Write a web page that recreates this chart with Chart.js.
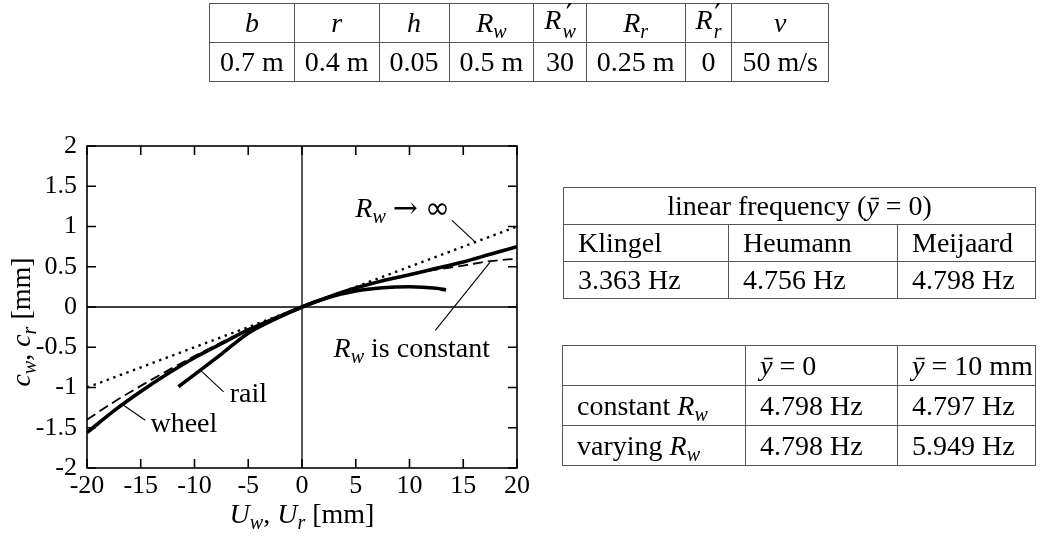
<!DOCTYPE html>
<html><head><meta charset="utf-8">
<script src="https://cdn.jsdelivr.net/npm/chart.js@4.4.1/dist/chart.umd.min.js"></script>
<style>
html,body{margin:0;padding:0;background:#fff;}
body{width:1053px;height:536px;position:relative;overflow:hidden;font-family:"Liberation Serif",serif;color:#000;}
#c{position:absolute;left:0;top:0;}
table{position:absolute;border-collapse:collapse;font-size:28px;line-height:1;font-family:"Liberation Serif",serif;}
td{border:1.3px solid #555;white-space:nowrap;}
sub{font-size:20px;vertical-align:-6px;line-height:0;}
.ps{display:inline-flex;flex-direction:column;vertical-align:middle;margin-left:1px;}
.ps .p{font-size:30px;line-height:15px;height:15px;font-family:"DejaVu Serif",serif;}
.ps .s{font-size:20px;line-height:18px;}
#t1{left:209px;top:3px;}
#t1 td{text-align:center;height:38px;padding:0 10px;}
#t2{left:563px;top:187px;width:472px;table-layout:fixed;}
#t2 td{height:36px;text-align:left;padding:0 0 0 14px;}
#t3{left:562px;top:345px;width:473px;table-layout:fixed;}
#t3 td{height:39px;text-align:left;padding:0 0 0 14px;}
</style></head>
<body>
<canvas id="c" width="1053" height="536"></canvas>
<table id="t1"></table>
<table id="t2"></table>
<table id="t3"></table>
<script>
// ---- data ----
const xTicks = [-20,-15,-10,-5,0,5,10,15,20];
const yTicks = [-2,-1.5,-1,-0.5,0,0.5,1,1.5,2];
const xTickLabels = ['-20','-15','-10','-5','0','5','10','15','20'];
const yTickLabels = ['-2','-1.5','-1','-0.5','0','0.5','1','1.5','2'];

const infX  = [-20, 0, 20];
const infY  = [-1, 0, 1];
const constX = [-20,-17.5,-15,-12.5,-10,-7.5,-5,-2.5,0,2.5,5,7.5,10,12.5,15,17.5,20];
const constY = [-1.40,-1.18,-0.98,-0.79,-0.61,-0.44,-0.275,-0.135,0,0.125,0.235,0.33,0.405,0.465,0.515,0.57,0.60];
const wheelX = [-20,-17.5,-15,-12.5,-10,-7.5,-5,-2.5,0,2.5,5,7.5,10,12.5,15,17.5,20];
const wheelY = [-1.56,-1.29,-1.05,-0.83,-0.63,-0.455,-0.285,-0.14,0,0.125,0.235,0.325,0.40,0.48,0.56,0.655,0.75];
const railX = [-11.5,-10,-7.5,-5,-2.5,0,2.5,5,7.5,10,12.5,13.4];
const railY = [-0.99,-0.84,-0.585,-0.325,-0.15,0,0.12,0.2,0.24,0.252,0.232,0.212];

const paramHeads = ['<i>b</i>','<i>r</i>','<i>h</i>','<i>R</i><sub><i>w</i></sub>',
  '<i>R</i><span class="ps"><span class="p">′</span><span class="s"><i>w</i></span></span>',
  '<i>R</i><sub><i>r</i></sub>',
  '<i>R</i><span class="ps"><span class="p">′</span><span class="s"><i>r</i></span></span>','<i>v</i>'];
const paramVals = ['0.7 m','0.4 m','0.05','0.5 m','30','0.25 m','0','50 m/s'];
const linHead = 'linear frequency (<i>ȳ</i> = 0)';
const linNames = ['Klingel','Heumann','Meijaard'];
const linVals = ['3.363 Hz','4.756 Hz','4.798 Hz'];
const cmpHeads = ['','<i>ȳ</i> = 0','<i>ȳ</i> = 10 mm'];
const cmpRows = [['constant <i>R</i><sub><i>w</i></sub>','4.798 Hz','4.797 Hz'],
                 ['varying <i>R</i><sub><i>w</i></sub>','4.798 Hz','5.949 Hz']];

// ---- tables ----
document.getElementById('t1').innerHTML =
  '<tr>'+paramHeads.map(h=>'<td>'+h+'</td>').join('')+'</tr>'+
  '<tr>'+paramVals.map(v=>'<td>'+v+'</td>').join('')+'</tr>';
const w2=[165,169,138];
document.getElementById('t2').innerHTML =
  '<colgroup>'+w2.map(w=>'<col style="width:'+w+'px">').join('')+'</colgroup>'+
  '<tr><td colspan="3" style="text-align:center;padding:0">'+linHead+'</td></tr>'+
  '<tr>'+linNames.map(n=>'<td>'+n+'</td>').join('')+'</tr>'+
  '<tr>'+linVals.map(v=>'<td>'+v+'</td>').join('')+'</tr>';
const w3=[183,152,138];
document.getElementById('t3').innerHTML =
  '<colgroup>'+w3.map(w=>'<col style="width:'+w+'px">').join('')+'</colgroup>'+
  '<tr>'+cmpHeads.map(h=>'<td>'+h+'</td>').join('')+'</tr>'+
  cmpRows.map(r=>'<tr>'+r.map(v=>'<td>'+v+'</td>').join('')+'</tr>').join('');

// ---- annotations (data coords) ----
const notes = [
  {parts:[{t:'R',it:1},{t:'w',it:1,sub:1},{t:' '},{t:'→',sym:1},{t:' '},{t:'∞',sym:2}], x:4.96, y:1.115, lx:[13.95,16.12], ly:[1.076,0.806]},
  {parts:[{t:'R',it:1},{t:'w',it:1,sub:1},{t:' is constant'}], x:2.94, y:-0.62, lx:[12.4,17.5], ly:[-0.29,0.558]},
  {parts:[{t:'rail'}], x:-6.73, y:-1.18, lx:[-7.29,-9.46], ly:[-1.055,-0.785]},
  {parts:[{t:'wheel'}], x:-14.1, y:-1.55, lx:[-14.58,-16.6], ly:[-1.406,-1.22]}
];
const xTitle = [{t:'U',it:1},{t:'w',it:1,sub:1},{t:', '},{t:'U',it:1},{t:'r',it:1,sub:1},{t:' [mm]'}];
const yTitle = [{t:'c',it:1},{t:'w',it:1,sub:1},{t:', '},{t:'c',it:1},{t:'r',it:1,sub:1},{t:' [mm]'}];

const FAM = '"Liberation Serif", serif';
function fontOf(p){
  if(p.sym===1) return '30px "DejaVu Serif", serif';
  if(p.sym===2) return '30px "DejaVu Sans", sans-serif';
  return (p.it?'italic ':'')+(p.sub?20:28)+'px '+FAM;
}
function drawRich(ctx, parts, x, y, align){
  let w=0; parts.forEach(p=>{ctx.font=fontOf(p); w+=ctx.measureText(p.t).width;});
  let cx = align==='center'? x-w/2 : x;
  ctx.textBaseline='alphabetic'; ctx.textAlign='left'; ctx.fillStyle='#000';
  parts.forEach(p=>{ctx.font=fontOf(p); ctx.fillText(p.t, cx, y+(p.sub?6:0)+(p.sym?1:0)); cx+=ctx.measureText(p.t).width;});
}

const framePlugin = {
  id:'frame',
  beforeDatasetsDraw(chart){
    const {ctx, chartArea:a, scales:{x,y}} = chart;
    ctx.save(); ctx.strokeStyle='#000'; ctx.lineWidth=1.3;
    const x0=x.getPixelForValue(0), y0=y.getPixelForValue(0);
    ctx.beginPath(); ctx.moveTo(x0,a.top); ctx.lineTo(x0,a.bottom);
    ctx.moveTo(a.left,y0); ctx.lineTo(a.right,y0); ctx.stroke();
    ctx.restore();
  },
  afterDraw(chart){
    const {ctx, chartArea:a, scales:{x,y}} = chart;
    ctx.save(); ctx.strokeStyle='#000'; ctx.lineWidth=1.6;
    ctx.strokeRect(a.left,a.top,a.right-a.left,a.bottom-a.top);
    const L=9;
    ctx.beginPath();
    xTicks.forEach(v=>{const p=x.getPixelForValue(v);
      ctx.moveTo(p,a.bottom); ctx.lineTo(p,a.bottom-L); ctx.moveTo(p,a.top); ctx.lineTo(p,a.top+L);});
    yTicks.forEach(v=>{const p=y.getPixelForValue(v);
      ctx.moveTo(a.left,p); ctx.lineTo(a.left+L,p); ctx.moveTo(a.right,p); ctx.lineTo(a.right-L,p);});
    ctx.stroke();
    // annotations
    ctx.lineWidth=1.1;
    notes.forEach(n=>{
      ctx.beginPath();
      ctx.moveTo(x.getPixelForValue(n.lx[0]), y.getPixelForValue(n.ly[0]));
      ctx.lineTo(x.getPixelForValue(n.lx[1]), y.getPixelForValue(n.ly[1]));
      ctx.stroke();
      drawRich(ctx, n.parts, x.getPixelForValue(n.x), y.getPixelForValue(n.y), 'left');
    });
    // axis titles
    drawRich(ctx, xTitle, (a.left+a.right)/2, a.bottom+55, 'center');
    ctx.translate(a.left-57, (a.top+a.bottom)/2+15);
    ctx.rotate(-Math.PI/2);
    drawRich(ctx, yTitle, 0, 0, 'center');
    ctx.restore();
  }
};

const pts = (xs,ys)=>xs.map((v,i)=>({x:v,y:ys[i]}));
const tickFont = {family:'Liberation Serif', size:26};

new Chart(document.getElementById('c'), {
  type:'line',
  data:{datasets:[
    {label:'R_w → ∞', data:pts(infX,infY), borderColor:'#000', borderWidth:2.4, borderDash:[2.4,4.6], tension:0},
    {label:'R_w is constant', data:pts(constX,constY), borderColor:'#000', borderWidth:1.8, borderDash:[10,5], cubicInterpolationMode:'monotone'},
    {label:'wheel', data:pts(wheelX,wheelY), borderColor:'#000', borderWidth:3.6, cubicInterpolationMode:'monotone'},
    {label:'rail', data:pts(railX,railY), borderColor:'#000', borderWidth:3.6, cubicInterpolationMode:'monotone'}
  ]},
  options:{
    responsive:false, animation:false, devicePixelRatio:1,
    layout:{padding:{left:0, top:146, right:536, bottom:0}},
    elements:{point:{radius:0}},
    plugins:{legend:{display:false}, tooltip:{enabled:false}},
    scales:{
      x:{type:'linear', min:-20, max:20,
        grid:{display:false, drawTicks:false}, border:{display:false},
        afterBuildTicks:s=>{s.ticks=xTicks.map(v=>({value:v}));},
        ticks:{color:'#000', font:tickFont, padding:3, maxRotation:0, autoSkip:false,
          callback:(v)=>xTickLabels[xTicks.indexOf(v)]},
        afterFit:s=>{s.height=68;}},
      y:{type:'linear', min:-2, max:2,
        grid:{display:false, drawTicks:false}, border:{display:false},
        afterBuildTicks:s=>{s.ticks=yTicks.map(v=>({value:v}));},
        ticks:{color:'#000', font:tickFont, padding:10, autoSkip:false,
          callback:(v)=>yTickLabels[yTicks.indexOf(v)]},
        afterFit:s=>{s.width=87;}}
    }
  },
  plugins:[framePlugin]
});
</script>
</body></html>
